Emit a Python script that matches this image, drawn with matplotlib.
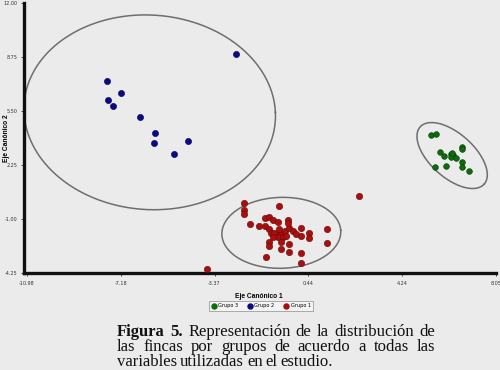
import numpy as np
import matplotlib
matplotlib.use("Agg")
import matplotlib.pyplot as plt
from matplotlib.lines import Line2D

# --- data ---
g1_x = [-2.19, -2.19, -2.19, -0.77, -1.95, -1.34, -1.14, -1.01, -0.80, -0.40,
        -1.55, -1.34, -1.17, -1.07, -0.80, -0.67, -0.53, -0.33, -0.20, -0.06,
        0.14, 0.14, 0.48, 0.48, 1.18, 1.18, -0.80, -0.60, -1.14, -1.14,
        -0.67, -0.67, -0.33, -0.33, -1.30, 0.14, 0.14, -0.94, -0.74, -0.47,
        -1.01, -0.40, 2.49, -3.68]
g1_y = [-0.03, -0.44, -0.70, -0.24, -1.30, -0.96, -0.90, -1.04, -1.16, -1.04,
        -1.40, -1.40, -1.60, -1.81, -1.91, -1.81, -1.71, -1.51, -1.71, -1.91,
        -1.51, -2.01, -1.81, -2.17, -1.60, -2.45, -2.11, -2.11, -2.41, -2.61,
        -2.41, -2.81, -2.51, -2.98, -3.28, -3.02, -3.62, -1.81, -1.60, -2.01,
        -2.11, -1.24, 0.41, -4.02]
g2_x = [-2.51, -7.74, -7.16, -7.69, -7.47, -6.39, -5.77, -5.84, -4.45, -5.03]
g2_y = [8.93, 7.31, 6.59, 6.17, 5.80, 5.12, 4.17, 3.59, 3.67, 2.90]
g3_x = [5.40, 5.63, 5.78, 5.94, 6.21, 6.32, 6.23, 6.42, 6.68, 6.68, 6.68, 6.68,
        6.95, 5.57, 6.04, 6.27]
g3_y = [4.03, 4.11, 3.02, 2.82, 2.93, 2.87, 2.72, 2.69, 3.33, 3.19, 2.42, 2.12,
        1.88, 2.16, 2.18, 2.98]

# ellipses: center, two conjugate semi-diameters (data units)
ell_g1 = [(-0.66, -1.83), (2.41, 0.15), (-0.10, 2.13)]
ell_g2 = [(-6.00, 5.42), (5.10, 0.0), (-0.18, 5.86)]
ell_g3 = [(6.27, 2.82), (1.30, -1.72), (0.59, 0.99)]

xticks = [-10.98, -7.18, -3.37, 0.44, 4.24, 8.05]
yticks = [-4.25, -1.00, 2.25, 5.50, 8.75, 12.00]

caption = [
    "Figura 5. Representación de la distribución de",
    "las fincas por grupos de acuerdo a todas las",
    "variables utilizadas en el estudio.",
]

BG = "#ebebeb"
c_red, c_blue, c_green = "#a80f0f", "#0a0a85", "#0d6b0d"

fig = plt.figure(figsize=(5, 3.7), dpi=100, facecolor=BG)
ax = fig.add_axes([0.048, 0.262, 0.944, 0.730], facecolor=BG)

t = np.linspace(0, 2 * np.pi, 300)
for (cx, cy), u, v in [ell_g2, ell_g1, ell_g3]:
    ex = cx + u[0] * np.cos(t) + v[0] * np.sin(t)
    ey = cy + u[1] * np.cos(t) + v[1] * np.sin(t)
    ax.plot(ex, ey, color="#6e6e6e", lw=1.1, zorder=1)

ax.scatter(g2_x, g2_y, s=20, color=c_blue, edgecolors="#05054a", lw=0.4, zorder=3)
ax.scatter(g1_x, g1_y, s=21, color=c_red, edgecolors="#6a0505", lw=0.4, zorder=3)
ax.scatter(g3_x, g3_y, s=17, color=c_green, edgecolors="#053d05", lw=0.4, zorder=3)

ax.set_xlim(-11.10, 8.05)
ax.set_ylim(-4.25, 12.0)
ax.set_xticks(xticks)
ax.set_yticks(yticks)
ax.set_xticklabels([f"{v:.2f}" for v in xticks])
ax.set_yticklabels([f"{v:.2f}" for v in yticks])
ax.tick_params(labelsize=3.5, length=2, width=0.6, pad=2.5, colors="#333333")
ax.tick_params(axis="x", pad=3.5)
for s in ["top", "right"]:
    ax.spines[s].set_visible(False)
for s in ["left", "bottom"]:
    ax.spines[s].set_linewidth(2.4)
    ax.spines[s].set_color("#111111")

ax.set_xlabel("Eje Canónico 1", fontsize=4.8, fontweight="bold",
              family="Liberation Sans")
ax.set_ylabel("Eje Canónico 2", fontsize=4.8, fontweight="bold",
              family="Liberation Sans", va="center")
ax.xaxis.set_label_coords(0.498, -0.075)
ax.yaxis.set_label_coords(-0.038, 0.5)

handles = [Line2D([], [], ls="", marker="o", ms=3.6, color=c) for c in (c_green, c_blue, c_red)]
leg = fig.legend(handles, ["Grupo 3", "Grupo 2", "Grupo 1"], loc="center",
                 bbox_to_anchor=(0.522, 0.173), ncol=3, fontsize=3.6,
                 frameon=True, fancybox=False, edgecolor="#888888",
                 handletextpad=0.4, columnspacing=1.8, borderpad=0.55,
                 handlelength=1.0)
leg.get_frame().set_facecolor("#f6f6f6")
leg.get_frame().set_linewidth(0.6)

# justified caption
renderer = fig.canvas.get_renderer()
x0, x1 = 117, 435
ys = [332, 347, 362]
for i, line in enumerate(caption):
    words = line.split(" ")
    objs = []
    for j, w in enumerate(words):
        bold = i == 0 and j < 2
        objs.append(fig.text(0, 1 - ys[i] / 370, w, fontsize=12,
                             family="Liberation Serif", va="center",
                             fontweight="bold" if bold else "normal",
                             color="#111111"))
    widths = [o.get_window_extent(renderer).width for o in objs]
    if i < len(caption) - 1:
        gap = (x1 - x0 - sum(widths)) / (len(words) - 1)
    else:
        gap = 3.0
    x = x0
    for o, w in zip(objs, widths):
        o.set_x(x / 500)
        x += w + gap

fig.savefig("out.png", dpi=100, facecolor=BG)
